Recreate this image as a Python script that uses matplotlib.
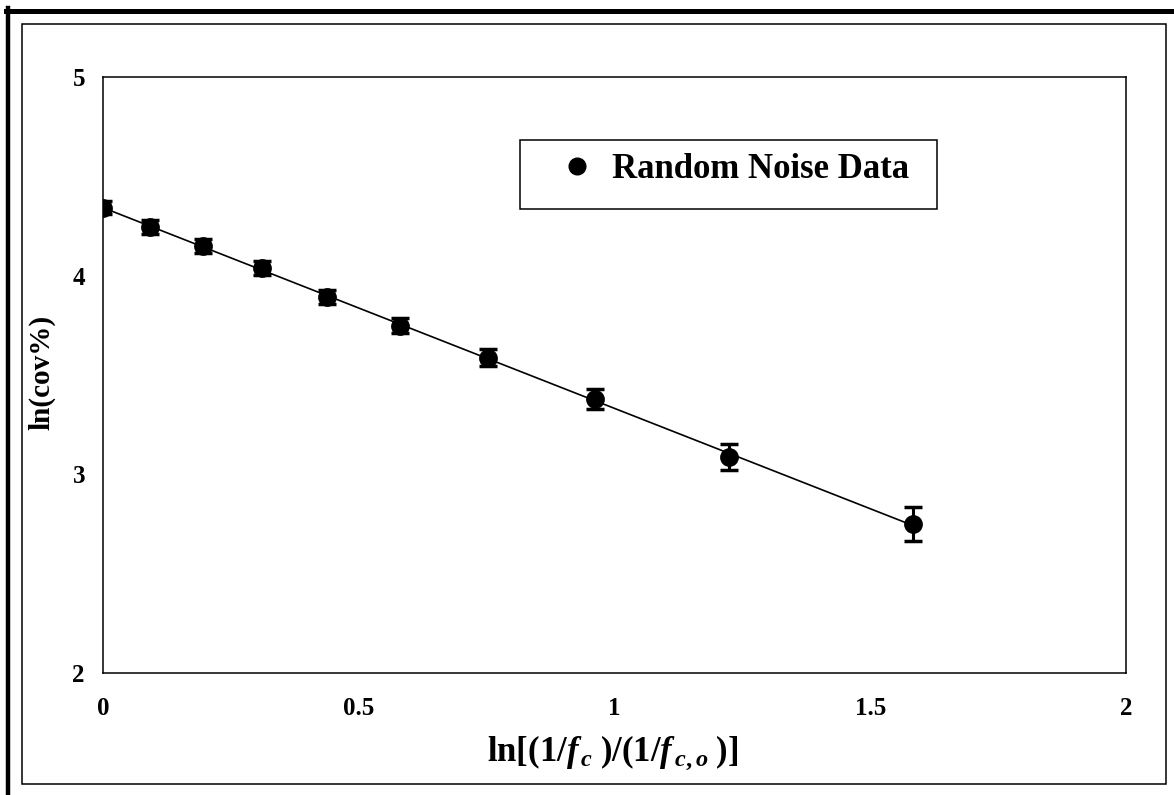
import numpy as np
import matplotlib
matplotlib.use("Agg")
import matplotlib.pyplot as plt
from matplotlib.lines import Line2D
from matplotlib.patches import Rectangle

# Data: log of normalized inverse cutoff frequency vs. log of coefficient of variation
x_vals = [0.0, 0.092, 0.196, 0.311, 0.438, 0.581, 0.753, 0.962, 1.224, 1.584]
y_vals = [4.341, 4.245, 4.149, 4.039, 3.893, 3.747, 3.586, 3.380, 3.088, 2.750]
y_err = [0.033, 0.033, 0.034, 0.035, 0.036, 0.038, 0.043, 0.050, 0.065, 0.088]
x_ticks = [0, 0.5, 1, 1.5, 2]
y_ticks = [2, 3, 4, 5]
series_label = "Random Noise Data"

plt.rcParams["font.family"] = ["Liberation Serif", "DejaVu Serif"]
plt.rcParams["font.weight"] = "bold"
plt.rcParams["mathtext.fontset"] = "custom"
plt.rcParams["mathtext.rm"] = "Liberation Serif:bold"
plt.rcParams["mathtext.it"] = "Liberation Serif:bold:italic"
plt.rcParams["mathtext.bf"] = "Liberation Serif:bold"

W, H = 1174, 795
fig = plt.figure(figsize=(W / 100, H / 100), dpi=100)
fig.patch.set_facecolor("white")


def fx(px):
    return px / W


def fy(py):
    return 1 - py / H


# axes box in pixel coordinates
left, right, top, bottom = 103, 1126, 77, 673
ax = fig.add_axes([fx(left), fy(bottom), (right - left) / W, (bottom - top) / H])

ax.errorbar(x_vals, y_vals, yerr=y_err, fmt="o", color="black", markersize=12.5,
            elinewidth=2.2, capsize=6.5, capthick=2.5, zorder=3)

# least-squares trend line across the data range
coef = np.polyfit(x_vals, y_vals, 1)
xl = np.array([x_vals[0], x_vals[-1]])
ax.plot(xl, np.polyval(coef, xl), color="black", lw=1.2, zorder=2)

ax.set_xlim(0, 2)
ax.set_ylim(2, 5)
ax.set_xticks(x_ticks)
ax.set_xticklabels([f"{t:g}" for t in x_ticks])
ax.set_yticks(y_ticks)
ax.tick_params(length=0, labelsize=18)
ax.tick_params(axis="x", pad=17)
ax.tick_params(axis="y", pad=13)
for lab in ax.get_xticklabels() + ax.get_yticklabels():
    lab.set_fontweight("bold")
for s in ax.spines.values():
    s.set_linewidth(1.1)

ax.set_ylabel("ln(cov%)", fontsize=21, fontweight="bold")
ax.yaxis.set_label_coords((55 - left) / (right - left), 0.505)
ax.set_xlabel(r"$\mathrm{ln[(1/}\mathit{f}_{\,\mathit{c}}\;\mathrm{)/(1/}\mathit{f}_{\,\mathit{c,o}}\;\mathrm{)]}$",
              fontsize=25)
ax.xaxis.set_label_coords(0.4985, -(733 - bottom) / (bottom - top))

# legend: marker-only handle, framed by a separate box
handle = Line2D([], [], marker="o", linestyle="none", color="black", markersize=12)
ax.legend([handle], [series_label], loc="center left",
          bbox_to_anchor=(fx(549), fy(170)), bbox_transform=fig.transFigure,
          frameon=False, borderpad=0, borderaxespad=0,
          handlelength=1.6, handletextpad=0.2,
          prop={"family": "Liberation Serif", "weight": "bold", "size": 25})
fig.add_artist(Rectangle((fx(520), fy(209)), (937 - 520) / W, (209 - 140) / H,
                         transform=fig.transFigure, fill=False, edgecolor="black", lw=1.1))

# inner frame around the chart and thick border on the left and top
fig.add_artist(Rectangle((fx(22), fy(784)), (1166 - 22) / W, (784 - 24) / H,
                         transform=fig.transFigure, fill=False, edgecolor="black", lw=1.1))
fig.add_artist(Line2D([fx(8), fx(8)], [0, fy(8)], transform=fig.transFigure,
                      color="black", lw=3.2))
fig.add_artist(Line2D([fx(6), 1], [fy(10.5), fy(10.5)], transform=fig.transFigure,
                      color="black", lw=3.6))

fig.savefig("out.png", dpi=100, facecolor="white")
